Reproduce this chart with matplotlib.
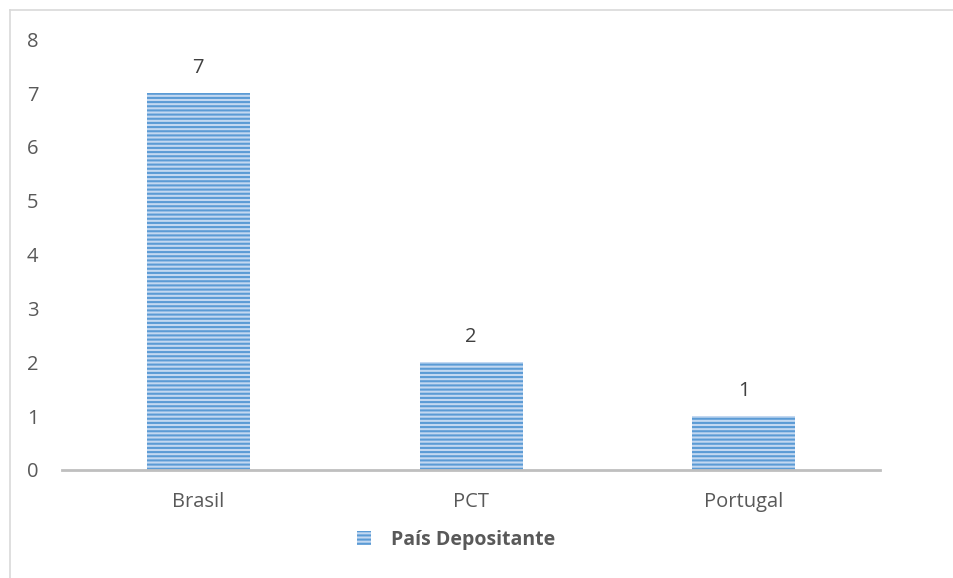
import matplotlib.pyplot as plt
from matplotlib.lines import Line2D

categories = ["Brasil", "PCT", "Portugal"]
values = [7, 2, 1]
series_name = "País Depositante"

plt.rcParams['font.family'] = ['Open Sans', 'DejaVu Sans']
plt.rcParams['hatch.linewidth'] = 1.5

fig = plt.figure(figsize=(9.54, 5.78), dpi=100)
ax = fig.add_axes([0.065, 0.187, 0.8576, 0.745])

# chart frame (only top and left visible in the crop)
fig.lines.append(Line2D([0.0100, 0.0100], [0.0, 0.982], transform=fig.transFigure,
                        color='#d9d9d9', linewidth=1.2))
fig.lines.append(Line2D([0.0100, 0.999], [0.982, 0.982], transform=fig.transFigure,
                        color='#d9d9d9', linewidth=1.2))

x = range(len(categories))
bars = ax.bar(x, values, width=0.378, color='#c3d8f1', edgecolor='#5b9bd5',
              hatch='----', linewidth=0, label=series_name)

for i, v in zip(x, values):
    ax.annotate(str(v), (i, v), xytext=(0, 11), textcoords='offset points',
                ha='center', va='bottom', fontsize=14.5, color='#404040')

ax.set_xlim(-0.5, 2.5)
ax.set_ylim(0, 8)
ax.set_yticks(range(0, 9))
ax.set_xticks(list(x))
ax.set_xticklabels(categories)
ax.tick_params(axis='both', length=0, labelsize=14.5, labelcolor='#595959')
ax.tick_params(axis='y', pad=17)
ax.tick_params(axis='x', pad=16)
for s in ['top', 'right', 'left']:
    ax.spines[s].set_visible(False)
ax.spines['bottom'].set_color('#bfbfbf')
ax.spines['bottom'].set_linewidth(2)

leg = fig.legend(handles=[bars], labels=[series_name], loc='center',
                 bbox_to_anchor=(0.478, 0.066), frameon=False, handlelength=0.75,
                 handleheight=0.75, handletextpad=1.0,
                 prop={'weight': 'bold', 'size': 14})
for t in leg.get_texts():
    t.set_color('#595959')

fig.savefig('out.png', dpi=100)
